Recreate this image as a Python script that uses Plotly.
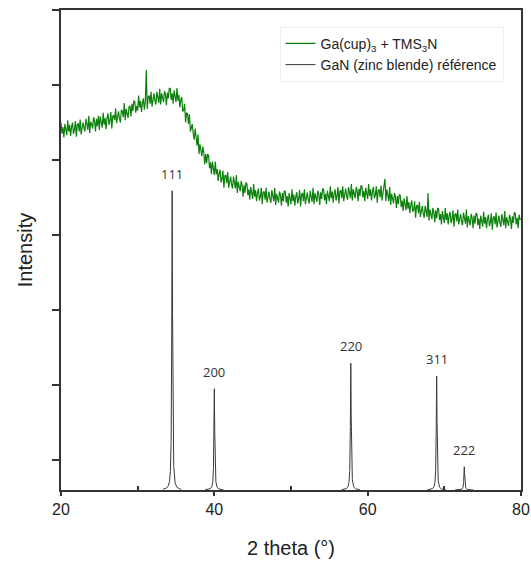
import numpy as np
import plotly.graph_objects as go

# ---- Sample pattern: Ga(cup)3 + TMS3N (2theta step 0.125 deg, 20..80) ----
two_theta_start = 20.0
two_theta_step = 0.125
sample_intensity = [
    4.50, 4.35, 4.44, 4.30, 4.48, 4.42, 4.33, 4.53,  # 20
    4.38, 4.47, 4.32, 4.44, 4.50, 4.35, 4.40, 4.52,  # 21
    4.31, 4.47, 4.49, 4.38, 4.54, 4.34, 4.43, 4.50,  # 22
    4.43, 4.38, 4.55, 4.48, 4.40, 4.59, 4.36, 4.51,  # 23
    4.48, 4.42, 4.57, 4.52, 4.38, 4.55, 4.45, 4.59,  # 24
    4.40, 4.58, 4.52, 4.43, 4.63, 4.47, 4.56, 4.41,  # 25
    4.56, 4.62, 4.47, 4.52, 4.64, 4.42, 4.58, 4.60,  # 26
    4.53, 4.69, 4.49, 4.58, 4.65, 4.55, 4.50, 4.67,  # 27
    4.65, 4.57, 4.76, 4.53, 4.68, 4.62, 4.56, 4.71,  # 28
    4.72, 4.58, 4.75, 4.65, 4.79, 4.78, 4.63, 4.72,  # 29
    4.66, 4.86, 4.70, 4.79, 4.64, 4.76, 4.82, 4.67,  # 30
    4.78, 5.20, 4.68, 4.84, 4.86, 4.75, 4.91, 4.71,  # 31
    4.82, 4.89, 4.79, 4.74, 4.91, 4.84, 4.76, 4.95,  # 32
    4.74, 4.89, 4.83, 4.77, 4.92, 4.87, 4.73, 4.90,  # 33
    4.82, 4.96, 4.95, 4.80, 4.89, 4.75, 4.93, 4.87,  # 34
    4.77, 4.96, 4.79, 4.87, 4.70, 4.80, 4.84, 4.65,  # 35
    4.66, 4.75, 4.50, 4.63, 4.62, 4.48, 4.61, 4.38,  # 36
    4.44, 4.48, 4.35, 4.27, 4.42, 4.31, 4.19, 4.34,  # 37
    4.08, 4.21, 4.13, 4.05, 4.18, 4.10, 3.94, 4.08,  # 38
    3.96, 4.08, 4.06, 3.89, 3.97, 3.81, 3.98, 3.90,  # 39
    3.80, 3.98, 3.81, 3.88, 3.72, 3.82, 3.87, 3.70,  # 40
    3.74, 3.86, 3.63, 3.79, 3.80, 3.69, 3.84, 3.63,  # 41
    3.71, 3.78, 3.67, 3.62, 3.78, 3.70, 3.62, 3.80,  # 42
    3.56, 3.71, 3.64, 3.58, 3.72, 3.66, 3.51, 3.67,  # 43
    3.56, 3.70, 3.68, 3.53, 3.61, 3.47, 3.64, 3.58,  # 44
    3.48, 3.68, 3.51, 3.60, 3.45, 3.56, 3.62, 3.46,  # 45
    3.51, 3.63, 3.41, 3.57, 3.58, 3.47, 3.63, 3.43,  # 46
    3.51, 3.58, 3.48, 3.43, 3.60, 3.52, 3.45, 3.63,  # 47
    3.40, 3.55, 3.49, 3.43, 3.58, 3.53, 3.39, 3.56,  # 48
    3.45, 3.59, 3.58, 3.43, 3.52, 3.38, 3.56, 3.50,  # 49
    3.41, 3.61, 3.45, 3.54, 3.39, 3.51, 3.57, 3.42,  # 50
    3.48, 3.60, 3.38, 3.54, 3.56, 3.45, 3.61, 3.41,  # 51
    3.50, 3.57, 3.47, 3.42, 3.59, 3.52, 3.44, 3.63,  # 52
    3.41, 3.56, 3.50, 3.44, 3.59, 3.54, 3.40, 3.57,  # 53
    3.48, 3.62, 3.61, 3.46, 3.55, 3.41, 3.59, 3.53,  # 54
    3.45, 3.65, 3.49, 3.58, 3.43, 3.55, 3.61, 3.46,  # 55
    3.52, 3.64, 3.42, 3.58, 3.60, 3.49, 3.65, 3.45,  # 56
    3.55, 3.62, 3.52, 3.47, 3.64, 3.57, 3.49, 3.68,  # 57
    3.46, 3.61, 3.55, 3.49, 3.64, 3.59, 3.45, 3.62,  # 58
    3.52, 3.66, 3.65, 3.50, 3.59, 3.45, 3.63, 3.57,  # 59
    3.48, 3.68, 3.52, 3.61, 3.46, 3.58, 3.64, 3.49,  # 60
    3.53, 3.65, 3.43, 3.59, 3.61, 3.50, 3.66, 3.46,  # 61
    3.54, 3.61, 3.75, 3.45, 3.61, 3.54, 3.45, 3.64,  # 62
    3.40, 3.55, 3.48, 3.42, 3.56, 3.51, 3.36, 3.52,  # 63
    3.41, 3.54, 3.53, 3.37, 3.46, 3.32, 3.49, 3.42,  # 64
    3.33, 3.52, 3.35, 3.44, 3.29, 3.40, 3.46, 3.31,  # 65
    3.34, 3.45, 3.23, 3.39, 3.40, 3.29, 3.44, 3.24,  # 66
    3.32, 3.39, 3.29, 3.23, 3.39, 3.32, 3.24, 3.56,  # 67
    3.19, 3.34, 3.28, 3.21, 3.36, 3.31, 3.17, 3.33,  # 68
    3.22, 3.36, 3.35, 3.20, 3.28, 3.14, 3.32, 3.26,  # 69
    3.16, 3.36, 3.20, 3.29, 3.14, 3.26, 3.31, 3.16,  # 70
    3.21, 3.33, 3.11, 3.27, 3.29, 3.18, 3.34, 3.14,  # 71
    3.21, 3.28, 3.18, 3.13, 3.30, 3.23, 3.15, 3.34,  # 72
    3.10, 3.25, 3.19, 3.13, 3.28, 3.23, 3.09, 3.26,  # 73
    3.15, 3.29, 3.28, 3.13, 3.22, 3.08, 3.26, 3.20,  # 74
    3.11, 3.31, 3.15, 3.24, 3.09, 3.21, 3.27, 3.12,  # 75
    3.17, 3.29, 3.07, 3.23, 3.25, 3.14, 3.30, 3.10,  # 76
    3.19, 3.26, 3.16, 3.11, 3.28, 3.21, 3.13, 3.32,  # 77
    3.09, 3.24, 3.18, 3.12, 3.27, 3.22, 3.08, 3.25,  # 78
    3.16, 3.30, 3.29, 3.14, 3.23, 3.09, 3.27, 3.21,  # 79
    3.21,                                            # 80
]

# ---- Reference pattern: GaN (zinc blende) ----
ref_labels = ["111", "200", "220", "311", "222"]
ref_positions = [34.5, 40.0, 57.8, 69.0, 72.6]
ref_heights = [3.59, 0.95, 1.29, 1.12, -0.09]

# ---- axes ----
y_min, y_max = -0.4, 6.0
x_major = [20, 40, 60, 80]
x_minor = [30, 50, 70]
y_ticks = [0, 1, 2, 3, 4, 5, 6]

sample_x = two_theta_start + two_theta_step * np.arange(len(sample_intensity))

# reference peak profiles (narrow Lorentzian line shape on the baseline)
gamma = 0.06
ref_x, ref_y = [], []
for pos, h in zip(ref_positions, ref_heights):
    xs = np.linspace(pos - 1.2, pos + 1.2, 481)
    ys = y_min + (h - y_min) / (1 + ((xs - pos) / gamma) ** 2)
    ref_x += list(xs) + [None]
    ref_y += list(ys) + [None]

fig = go.Figure()
fig.add_trace(go.Scatter(
    x=ref_x, y=ref_y, mode="lines",
    line=dict(color="#3a3a3a", width=1),
    name="GaN (zinc blende) référence", showlegend=False,
))
fig.add_trace(go.Scatter(
    x=sample_x, y=sample_intensity, mode="lines",
    line=dict(color="#0b800b", width=1.2),
    name="Ga(cup)<sub>3</sub> + TMS<sub>3</sub>N",
))
fig.add_trace(go.Scatter(
    x=[None], y=[None], mode="lines",
    line=dict(color="#3a3a3a", width=1),
    name="GaN (zinc blende) référence",
))

for lab, pos, h in zip(ref_labels, ref_positions, ref_heights):
    fig.add_annotation(
        x=pos, y=h, text=lab, showarrow=False,
        yanchor="middle", yshift=17,
        font=dict(family="Open Sans, sans-serif", size=13, color="#333333"),
    )

axis_font = dict(family="Liberation Sans, Arial, sans-serif", size=16, color="#222222")
title_font = dict(family="Liberation Sans, Arial, sans-serif", size=20, color="#222222")

fig.update_layout(
    width=531, height=563,
    margin=dict(l=61, r=10, t=10, b=73, autoexpand=False),
    paper_bgcolor="white", plot_bgcolor="white",
    showlegend=True,
    legend=dict(
        x=0.475, y=0.965, xanchor="left", yanchor="top",
        font=dict(family="Liberation Sans, Arial, sans-serif", size=14, color="#222222"),
        bgcolor="rgba(255,255,255,0)", bordercolor="#eeeeee", borderwidth=1,
        itemwidth=30, tracegroupgap=2,
    ),
    xaxis=dict(
        range=[20, 80], tickvals=x_major, ticks="outside", ticklen=4, tickwidth=1.5,
        tickcolor="#333333", automargin=False,
        minor=dict(tickvals=x_minor, ticks="inside", ticklen=4, tickwidth=1.5, tickcolor="#333333"),
        showline=True, linecolor="#333333", linewidth=1.5, mirror=True,
        showgrid=False, zeroline=False, tickfont=axis_font,
        title=dict(text="2 theta (°)", font=title_font, standoff=24),
    ),
    yaxis=dict(
        range=[y_min, y_max], tickvals=y_ticks, ticks="outside", ticklen=7, tickwidth=1.5,
        tickcolor="#333333", showticklabels=False, automargin=False,
        showline=True, linecolor="#333333", linewidth=1.5, mirror=True,
        showgrid=False, zeroline=False,
        title=dict(text="Intensity", font=title_font, standoff=14),
    ),
)

fig.write_html(
    "out.html",
    config={"displayModeBar": False},
    post_script="document.body.style.margin='0';document.body.style.padding='0';",
)
